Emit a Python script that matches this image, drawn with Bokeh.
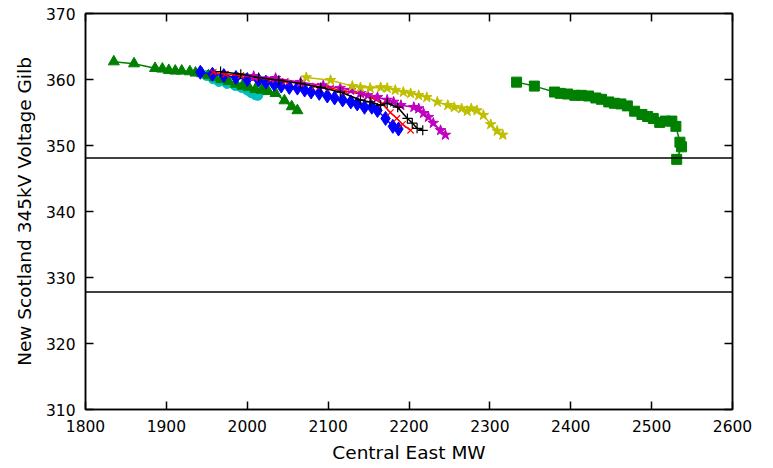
from bokeh.plotting import figure
from bokeh.models import LinearAxis, Span, Range1d, FixedTicker, CustomJSTickFormatter
from bokeh.embed import file_html
from bokeh.resources import INLINE

# ---- data ----
tri_mw = [1835, 1860, 1886, 1895, 1903, 1911, 1919, 1929, 1936, 1944, 1952, 1960, 1968,
          1977, 1986, 1994, 2002, 2010, 2018, 2026, 2035, 2046, 2055, 2062]
tri_kv = [362.7, 362.4, 361.7, 361.6, 361.4, 361.3, 361.3, 361.2, 361.0, 360.9, 360.6, 360.3, 360.0,
          359.7, 359.3, 359.0, 358.8, 358.5, 358.4, 358.2, 357.9, 356.8, 355.9, 355.3]

cyan_mw = [1950, 1958, 1965, 1975, 1985, 1993, 2000, 2005, 2010, 2013]
cyan_kv = [360.6, 360.1, 359.7, 359.4, 359.1, 358.8, 358.4, 358.0, 357.7, 357.6]

blue_mw = [1942, 1957, 1971, 1986, 2000, 2014, 2023, 2033, 2042, 2052, 2062, 2071, 2079,
           2089, 2099, 2108, 2118, 2128, 2136, 2145, 2154, 2161, 2171, 2180, 2187]
blue_kv = [361.1, 360.8, 360.6, 360.3, 360.0, 359.9, 359.6, 359.3, 359.0, 358.8, 358.7, 358.4, 358.1,
           357.9, 357.5, 357.2, 356.9, 356.6, 356.3, 355.8, 355.8, 355.3, 354.1, 352.9, 352.5]

red_mw = [1958, 1973, 1992, 2010, 2029, 2047, 2066, 2084, 2103, 2121, 2140, 2155, 2167,
          2177, 2185, 2192, 2202]
red_kv = [361.1, 360.8, 360.6, 360.3, 360.0, 359.7, 359.4, 359.0, 358.7, 358.2, 357.8, 357.2, 356.3,
          355.0, 354.1, 353.2, 352.3]

black_mw = [1967, 1992, 2014, 2039, 2066, 2091, 2115, 2140, 2152, 2165, 2173, 2186, 2198,
            2204, 2210, 2217]
black_kv = [361.2, 360.8, 360.3, 359.9, 359.4, 358.8, 358.1, 356.9, 356.6, 356.1, 356.4, 355.8, 354.1,
            353.4, 352.6, 352.3]

mag_mw = [2008, 2035, 2066, 2094, 2115, 2128, 2140, 2149, 2161, 2173, 2181, 2190, 2206,
          2212, 2218, 2224, 2230, 2239, 2245]
mag_kv = [360.5, 360.2, 359.6, 359.1, 358.7, 358.4, 357.9, 357.6, 357.3, 356.9, 356.6, 356.1, 355.8,
          355.6, 354.9, 354.3, 353.4, 352.3, 351.6]

yel_mw = [2073, 2103, 2130, 2140, 2152, 2165, 2173, 2183, 2193, 2202, 2212, 2222, 2235,
          2248, 2256, 2265, 2272, 2277, 2284, 2292, 2301, 2309, 2316]
yel_kv = [360.3, 359.9, 359.0, 358.8, 358.7, 358.8, 358.7, 358.4, 358.1, 357.9, 357.6, 357.3, 356.6,
          356.1, 355.8, 355.6, 355.2, 355.6, 355.3, 354.6, 353.2, 352.2, 351.6]

sq_mw = [2333, 2355, 2380, 2387, 2396, 2405, 2413, 2422, 2431, 2438, 2447, 2454, 2462,
         2470, 2479, 2488, 2495, 2502, 2510, 2517, 2525, 2530, 2535, 2537, 2531]
sq_kv = [359.6, 359.0, 358.1, 357.9, 357.8, 357.6, 357.6, 357.5, 357.2, 357.0, 356.6, 356.4, 356.3,
         356.0, 355.2, 354.7, 354.4, 354.1, 353.5, 353.7, 353.7, 352.9, 350.5, 349.8, 347.9]

limits_kv = [348.1, 327.8]

x_ticks = [1800, 1900, 2000, 2100, 2200, 2300, 2400, 2500, 2600]
y_ticks = [310, 320, 330, 340, 350, 360, 370]

FONT = "DejaVu Sans"

p = figure(width=757, height=465, output_backend="svg", toolbar_location=None,
           x_range=Range1d(1800, 2600), y_range=Range1d(310, 370),
           min_border_left=85, min_border_right=25, min_border_top=13, min_border_bottom=55)
p.grid.visible = False
p.outline_line_color = "black"
p.outline_line_width = 1.5
p.background_fill_color = "white"
p.border_fill_color = "white"

def style(ax, labels=True):
    ax.major_tick_in = 8
    ax.major_tick_out = 0
    ax.minor_tick_in = 0
    ax.minor_tick_out = 0
    ax.axis_line_color = "black"
    ax.axis_line_width = 1.5
    ax.major_tick_line_width = 1.5
    ax.major_label_text_font = FONT
    ax.major_label_text_font_size = "15.5px"
    ax.major_label_text_color = "black"
    ax.major_label_standoff = 10
    if not labels:
        ax.formatter = CustomJSTickFormatter(code="return ''")
        ax.major_label_standoff = 0

p.xaxis.ticker = FixedTicker(ticks=x_ticks)
p.yaxis.ticker = FixedTicker(ticks=y_ticks)
style(p.xaxis[0]); style(p.yaxis[0])
p.xaxis[0].major_label_standoff = 10
p.xaxis.axis_label = "Central East MW"
p.yaxis.axis_label = "New Scotland 345kV Voltage Gilb"
for ax in (p.xaxis[0], p.yaxis[0]):
    ax.axis_label_text_font = FONT
    ax.axis_label_text_font_size = "18.5px"
    ax.axis_label_text_font_style = "normal"
    ax.axis_label_text_color = "black"
    ax.axis_label_standoff = 8
p.xaxis[0].axis_label_standoff = 7

top = LinearAxis(ticker=FixedTicker(ticks=x_ticks))
right = LinearAxis(ticker=FixedTicker(ticks=y_ticks))
style(top, False); style(right, False)
p.add_layout(top, "above")
p.add_layout(right, "right")

for v in limits_kv:
    p.add_layout(Span(location=v, dimension="width", line_color="black", line_width=1.5))

# series
p.line(cyan_mw, cyan_kv, line_color="#00bfbf", line_width=1.5)
p.scatter(cyan_mw, cyan_kv, marker="circle", size=10, fill_color="#00bfbf", line_color="#00bfbf")

p.line(tri_mw, tri_kv, line_color="#008000", line_width=1.5)
p.scatter(tri_mw, tri_kv, marker="triangle", size=11, fill_color="#008000", line_color="#008000")

p.line(blue_mw, blue_kv, line_color="#0000ff", line_width=1.5)
p.scatter(blue_mw, blue_kv, marker="diamond", size=14, fill_color="#0000ff", line_color="#0000ff")

p.line(red_mw, red_kv, line_color="#ff0000", line_width=1.5)
p.scatter(red_mw, red_kv, marker="x", size=9, line_color="#ff0000", line_width=1.2)

p.line(mag_mw, mag_kv, line_color="#bf00bf", line_width=1.5)
p.scatter(mag_mw, mag_kv, marker="star", size=11, fill_color="#bf00bf", line_color="#bf00bf")

p.line(black_mw, black_kv, line_color="black", line_width=1.5)
p.scatter(black_mw, black_kv, marker="cross", size=10, line_color="black", line_width=1.2)

p.line(yel_mw, yel_kv, line_color="#bfbf00", line_width=1.5)
p.scatter(yel_mw, yel_kv, marker="star", size=11, fill_color="#bfbf00", line_color="#bfbf00")

p.line(sq_mw, sq_kv, line_color="#008000", line_width=1.5)
p.scatter(sq_mw, sq_kv, marker="square", size=10, fill_color="#008000", line_color="#008000")

open("out.html", "w").write(file_html(p, INLINE))
